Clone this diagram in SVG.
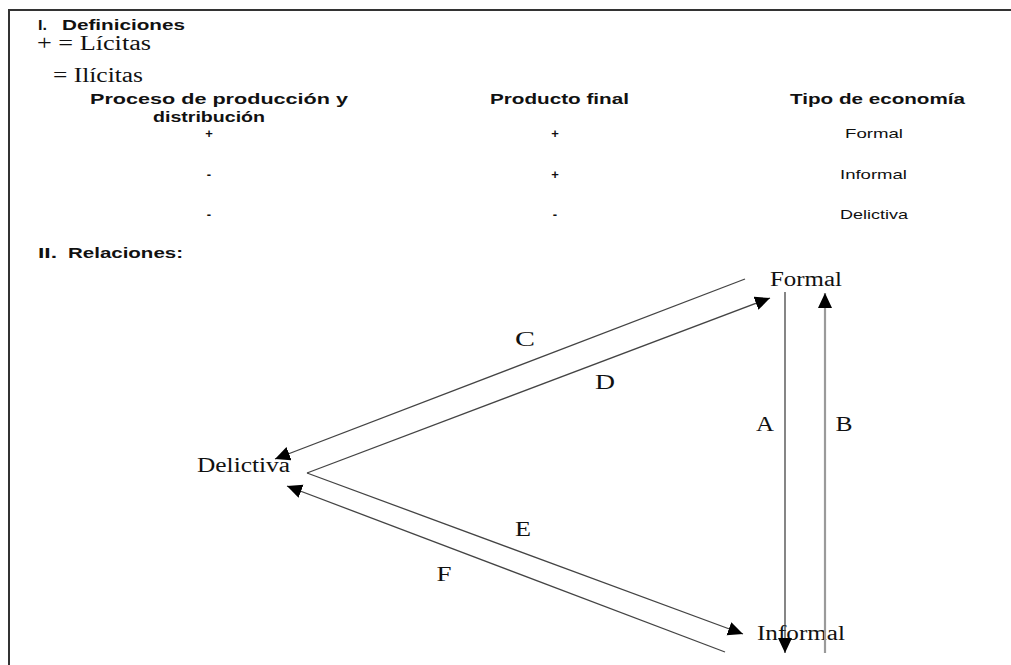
<svg xmlns="http://www.w3.org/2000/svg" width="1011" height="665" viewBox="0 0 1011 665">
<defs>
<style>
.h{font-family:"Liberation Sans",Arial,sans-serif;font-weight:bold;font-size:15px;fill:#111}
.s{font-family:"Liberation Sans",Arial,sans-serif;font-size:13px;fill:#111}
.r{font-family:"Liberation Serif","Times New Roman",serif;font-size:20px;fill:#111}
.c{stroke:#444;stroke-width:1.3;fill:none}
.cb{stroke:#9a9a9a;stroke-width:2.2;fill:none}
.frame{stroke:#333;stroke-width:2;fill:none}
</style>
<marker id="ah" markerUnits="userSpaceOnUse" markerWidth="16" markerHeight="16" refX="15" refY="7" orient="auto">
<path d="M0,0 L15,7 L0,14 z" fill="#000"/>
</marker>
</defs>
<rect width="1011" height="665" fill="#fff"/>
<path class="frame" d="M9,666 L9,10 L1012,10"/>

<g id="definiciones">
<text class="h" x="38" y="30" textLength="9" lengthAdjust="spacingAndGlyphs">I.</text>
<text class="h" x="62" y="30" textLength="123" lengthAdjust="spacingAndGlyphs">Definiciones</text>
<text class="r" x="37" y="50" font-size="19" textLength="114" lengthAdjust="spacingAndGlyphs">+ = Lícitas</text>
<text class="r" x="53" y="82" font-size="20" textLength="90" lengthAdjust="spacingAndGlyphs">= Ilícitas</text>
</g>

<g id="tabla">
<text class="h" x="90" y="104" textLength="258" lengthAdjust="spacingAndGlyphs">Proceso de producción y</text>
<text class="h" x="153" y="122" textLength="112" lengthAdjust="spacingAndGlyphs">distribución</text>
<text class="h" x="490" y="104" textLength="139" lengthAdjust="spacingAndGlyphs">Producto final</text>
<text class="h" x="790" y="104" textLength="175" lengthAdjust="spacingAndGlyphs">Tipo de economía</text>
<text class="s" x="209" y="138" text-anchor="middle" font-weight="bold">+</text>
<text class="s" x="555" y="138" text-anchor="middle" font-weight="bold">+</text>
<text class="s" x="845" y="138" textLength="58" lengthAdjust="spacingAndGlyphs">Formal</text>
<text class="s" x="209" y="179" text-anchor="middle" font-weight="bold">-</text>
<text class="s" x="555" y="179" text-anchor="middle" font-weight="bold">+</text>
<text class="s" x="840" y="179" textLength="67" lengthAdjust="spacingAndGlyphs">Informal</text>
<text class="s" x="209" y="219" text-anchor="middle" font-weight="bold">-</text>
<text class="s" x="555" y="219" text-anchor="middle" font-weight="bold">-</text>
<text class="s" x="840" y="219" textLength="68" lengthAdjust="spacingAndGlyphs">Delictiva</text>
</g>

<g id="relaciones-titulo">
<text class="h" x="38" y="258" textLength="19" lengthAdjust="spacingAndGlyphs">II.</text>
<text class="h" x="68" y="258" textLength="115" lengthAdjust="spacingAndGlyphs">Relaciones:</text>
</g>

<g id="node-formal">
<text class="r" x="770" y="286" font-size="21" textLength="72" lengthAdjust="spacingAndGlyphs">Formal</text>
</g>
<g id="node-delictiva">
<text class="r" x="197" y="472" font-size="21" textLength="93" lengthAdjust="spacingAndGlyphs">Delictiva</text>
</g>
<g id="node-informal">
<text class="r" x="757" y="640" font-size="21" textLength="88" lengthAdjust="spacingAndGlyphs">Informal</text>
</g>

<g id="connectors">
<line class="c" x1="745" y1="279" x2="275" y2="459" marker-end="url(#ah)"/>
<line class="c" x1="307" y1="473" x2="770" y2="298" marker-end="url(#ah)"/>
<line class="c" x1="307" y1="473" x2="743" y2="634" marker-end="url(#ah)"/>
<line class="c" x1="725" y1="652" x2="287" y2="486" marker-end="url(#ah)"/>
<line class="c" x1="785" y1="292" x2="785" y2="653" marker-end="url(#ah)"/>
<line class="cb" x1="825" y1="653" x2="825" y2="293" marker-end="url(#ah)"/>
<text class="r" x="525" y="346" text-anchor="middle" textLength="20" lengthAdjust="spacingAndGlyphs">C</text>
<text class="r" x="605" y="389" text-anchor="middle" textLength="20" lengthAdjust="spacingAndGlyphs">D</text>
<text class="r" x="765" y="431" text-anchor="middle" textLength="18" lengthAdjust="spacingAndGlyphs">A</text>
<text class="r" x="844" y="431" text-anchor="middle" textLength="17" lengthAdjust="spacingAndGlyphs">B</text>
<text class="r" x="523" y="536" text-anchor="middle" textLength="16" lengthAdjust="spacingAndGlyphs">E</text>
<text class="r" x="444" y="581" text-anchor="middle" textLength="15" lengthAdjust="spacingAndGlyphs">F</text>
</g>
</svg>
